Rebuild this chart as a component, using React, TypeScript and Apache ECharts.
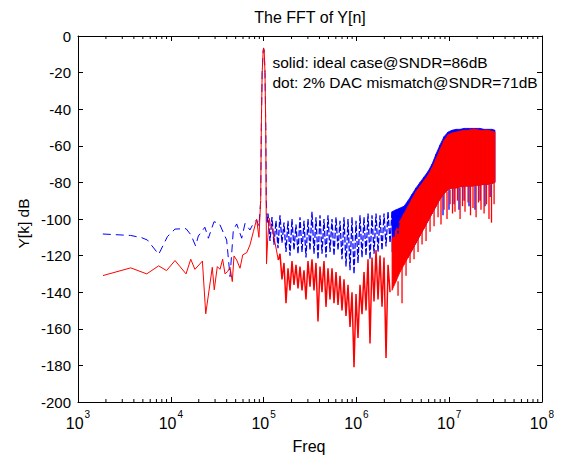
import React, { useEffect, useRef } from "react";
import * as echarts from "echarts";

const FONT = "'Liberation Sans', Arial, Helvetica, sans-serif";
const RED = "#ff0000";
const BLUE = "#0000ff";

// axis
const xMin = 1e3;
const xMax = 1e8;
const yMin = -200;
const yMax = 0;
const yInterval = 20;
const minorDecades = [1e3, 1e4, 1e5, 1e6, 1e7];
const minorMultipliers = [2, 3, 4, 5, 6, 7, 8, 9];

// texts
const titleText = "The FFT of Y[n]";
const xName = "Freq";
const yName = "Y[k] dB";
const note1 = "solid: ideal case@SNDR=86dB";
const note2 = "dot: 2% DAC mismatch@SNDR=71dB";

// ---- solid (ideal) : [Hz, dB]
const redLow: [number, number][] = [
  [1860, -130.9], [3700, -126.7], [5500, -130], [7400, -125.6], [9000, -128.2],
  [11100, -122.7], [14600, -130], [16400, -122], [18200, -127.5], [21900, -123],
  [23800, -151.8], [28000, -126.4], [29400, -138.7], [31700, -126], [33900, -127.5],
  [36200, -122], [38400, -130], [41000, -128.7], [43500, -126.4], [46000, -134.2],
  [48000, -120.2], [51300, -122.4], [55700, -126.9], [59600, -119.6], [65800, -118.4],
  [71300, -114.2], [77600, -106.9], [84100, -100.2], [89100, -110],
];
const redPeak: [number, number][] = [
  [93000, -90], [94500, -50], [96500, -20], [99000, -8], [100000, -6.5],
  [101500, -8], [103500, -20], [105500, -50], [106500, -90], [107500, -124.5],
  [111000, -110], [115200, -99.6], [118000, -103], [122000, -104], [127000, -108],
  [132700, -113], [137500, -117], [143900, -122.4],
];
// [kHz, dB]
const redNoise: [number, number][] = [
  [143.9, -122.4],
  [150.2, -119], [157.8, -133], [165.9, -124], [174.3, -146], [183.2, -127], [192.5, -139],
  [202.3, -123], [212.6, -136], [223.4, -125], [234.8, -138], [246.7, -126], [259.3, -139],
  [272.5, -128], [286.3, -144], [300.9, -123], [316.2, -137], [332.3, -122], [349.2, -139],
  [367.0, -124], [385.7, -156], [405.3, -126], [425.9, -140], [447.6, -123], [470.4, -148],
  [494.3, -127], [519.5, -144], [545.9, -127], [573.7, -146], [602.9, -129], [633.6, -147],
  [665.8, -131], [699.7, -150], [735.3, -133], [772.7, -153], [812.1, -136], [853.4, -159],
  [896.8, -140], [942.4, -181], [990.4, -141], [1040.7, -165], [1093.7, -136], [1149.4, -152],
  [1207.9, -129], [1269.4, -150], [1334.0, -122], [1401.9, -168], [1473.3, -121], [1548.3, -145],
  [1627.1, -117], [1709.9, -144], [1797.0, -120], [1888.4, -148], [1984.6, -121], [2085.6, -176],
  [2191.8, -125], [2303.4, -140],
];
// [kHz, top, bottom]
const redBand: [number, number, number][] = [
  [2420.6, -111, -139], [2673.4, -106, -134], [2952.5, -101, -129], [3260.7, -97, -125],
  [3601.2, -93, -121], [3977.2, -89, -117], [4392.4, -85, -113], [4851.0, -82, -109],
  [5357.5, -79, -105], [5916.9, -76, -101], [6534.6, -72, -97], [7216.9, -67, -93],
  [7970.4, -62, -89], [8802.5, -57, -86], [9721.6, -54, -84], [10736.5, -53, -83],
  [11857.4, -52.5, -83], [13095.4, -52, -82.5], [14462.7, -51.5, -82], [15972.6, -51.5, -82],
  [17640.3, -51, -82], [19482.0, -51, -81.5], [21516.0, -51.5, -81.5], [23762.4, -51.5, -81],
  [26243.3, -51.5, -81], [28983.3, -52, -80.5], [31150, -52.5, -80],
];
const redSpikes: [number, number, number][] = [
  [2809.5, -134, -142], [3102.8, -126, -146], [3426.7, -121, -131], [3784.5, -117, -124],
  [4179.6, -113, -122], [4616.0, -109, -118], [5098, -106, -114], [5630.2, -102, -112],
  [6218.1, -98, -107], [6867.3, -95, -104], [7584.3, -90, -99], [8159, -88, -103],
  [8802.5, -86, -95], [9469, -85, -100], [10216, -84, -92], [10853, -83, -97],
  [11547, -83, -96], [12290, -83, -90], [13095, -83, -100], [13911, -82, -93],
  [14800, -82, -96], [15973, -82, -91], [16963, -82, -98], [18053, -82, -94],
  [19482, -81.5, -99], [20690, -81.5, -91], [22010, -81.5, -95], [23762, -81, -97],
  [25230, -81, -92], [26840, -81, -100], [28560, -80.5, -102], [30459, -80, -92],
];

// ---- dotted (2% DAC mismatch) : [Hz, dB]
const blueLow: [number, number][] = [
  [1850, -108.2], [3700, -109], [4850, -110.2], [5600, -111.5], [7400, -119.3],
  [9200, -109.6], [11100, -105.5], [14600, -105.3], [16500, -108.7], [18500, -114.7],
  [19800, -109.3], [23300, -104.5], [25400, -110.5], [29200, -101.5], [33300, -102.4],
  [40000, -111.5], [43500, -131.5], [47200, -106], [51300, -102.7], [58100, -110.5],
  [63100, -102.4], [71300, -106], [77600, -102.4], [84100, -100.5], [89000, -104],
];
const bluePeak: [number, number][] = [
  [93000, -90], [94500, -50], [96500, -20], [99000, -8], [100000, -7],
  [101500, -8], [103500, -20], [105500, -50], [107000, -90], [109000, -102],
];
// [kHz, dB]
const blueNoise: [number, number][] = [
  [109.0, -102],
  [111.5, -97], [117.2, -112], [123.1, -99], [129.4, -114], [136.0, -101], [142.9, -116],
  [150.2, -98], [157.8, -113], [165.9, -102], [174.3, -118], [183.2, -101], [192.5, -120],
  [202.3, -100], [212.6, -117], [223.4, -103], [234.8, -119], [246.7, -99], [259.3, -118],
  [272.5, -101], [286.3, -121], [300.9, -100], [316.2, -117], [332.3, -96], [349.2, -119],
  [367.0, -99], [385.7, -122], [405.3, -98], [425.9, -119], [447.6, -100], [470.4, -121],
  [494.3, -98], [519.5, -118], [545.9, -100], [573.7, -120], [602.9, -99], [633.6, -117],
  [665.8, -101], [699.7, -122], [735.3, -99], [772.7, -126], [812.1, -100], [853.4, -128],
  [896.8, -99], [942.4, -130], [990.4, -101], [1040.7, -124], [1093.7, -98], [1149.4, -121],
  [1207.9, -99], [1269.4, -120], [1334.0, -97], [1401.9, -122], [1473.3, -98], [1548.3, -119],
  [1627.1, -97], [1709.9, -118], [1797.0, -98], [1888.4, -117], [1984.6, -97], [2085.6, -115],
  [2191.8, -96], [2303.4, -113], [2420.6, -96], [2543.9, -110], [2673.4, -95], [2809.5, -108],
  [2952.5, -94],
];
const blueBand: [number, number, number][] = [
  [2420.6, -96, -118], [2673.4, -95, -118], [2952.5, -94, -120], [3260.7, -93, -122],
  [3601.2, -90, -121], [3977.2, -86.5, -117], [4392.4, -83, -113], [4851.0, -80, -109],
  [5357.5, -77, -105], [5916.9, -74, -101], [6534.6, -70, -97], [7216.9, -64.5, -93],
  [7970.4, -59.5, -89], [8802.5, -55, -86], [9721.6, -52.5, -84], [10736.5, -51.5, -83],
  [11857.4, -51, -83], [13095.4, -51, -82.5], [14462.7, -50.5, -82], [15972.6, -50.5, -82],
  [17640.3, -50.5, -82], [19482.0, -50.5, -81.5], [21516.0, -50.5, -81.5], [23762.4, -51, -81],
  [26243.3, -51, -81], [28983.3, -51, -80.5], [31150, -51.5, -80],
];
const blueSpikes: [number, number, number][] = [
  [8575, -86, -98], [9950, -84, -95], [11280, -83, -92], [12750, -83, -95],
  [14463, -82, -90], [16346, -82, -93], [18970, -81.5, -95], [21516, -81.5, -90],
  [24310, -81, -93], [27580, -81, -88],
];

const kHz = (rows: number[][]) => rows.map((r) => [r[0] * 1000, ...r.slice(1)]);

function bandRenderer(rows: number[][], color: string) {
  return (params: any, api: any) => {
    const i = params.dataIndex;
    if (i >= rows.length - 1) return null;
    const a = rows[i];
    const b = rows[i + 1];
    const p1 = api.coord([a[0], a[1]]);
    const p2 = api.coord([b[0], b[1]]);
    const p3 = api.coord([b[0], b[2]]);
    const p4 = api.coord([a[0], a[2]]);
    return {
      type: "polygon",
      shape: { points: [p1, p2, p3, p4] },
      style: { fill: color, stroke: color, lineWidth: 0.8 },
    };
  };
}

function spikeRenderer(color: string) {
  return (params: any, api: any) => {
    const a = api.coord([api.value(0), api.value(1)]);
    const b = api.coord([api.value(0), api.value(2)]);
    return {
      type: "line",
      shape: { x1: a[0], y1: a[1], x2: b[0], y2: b[1] },
      style: { stroke: color, lineWidth: 1.3 },
    };
  };
}

export default function App() {
  const ref = useRef<HTMLDivElement>(null);
  useEffect(() => {
    if (!ref.current) return;
    const chart = echarts.init(ref.current, undefined, { renderer: "svg" });

    const redLine = [...redLow, ...redPeak];
    const blueLine = [...blueLow, ...bluePeak];
    const redNoiseHz = kHz(redNoise);
    const blueNoiseHz = kHz(blueNoise);
    const redBandHz = kHz(redBand);
    const blueBandHz = kHz(blueBand);
    const redSpikesHz = kHz(redSpikes);
    const blueSpikesHz = blueSpikes.map((r) => [r[0] * 1000, r[1], r[2]]);
    const minorTicks: number[][] = [];
    minorDecades.forEach((d) => minorMultipliers.forEach((m) => minorTicks.push([d * m, yMin])));

    const axisCommonX = {
      type: "log",
      logBase: 10,
      min: xMin,
      max: xMax,
      splitNumber: 5,
      axisLine: { show: true, onZero: false, lineStyle: { color: "#000", width: 1 } },
      axisTick: { show: true, inside: true, length: 5, lineStyle: { color: "#000", width: 1 } },
      splitLine: { show: false },
      minorTick: { show: false },
      minorSplitLine: { show: false },
    };
    const axisCommonY = {
      type: "value",
      min: yMin,
      max: yMax,
      interval: yInterval,
      axisLine: { show: true, onZero: false, lineStyle: { color: "#000", width: 1 } },
      axisTick: { show: true, inside: true, length: 5, lineStyle: { color: "#000", width: 1 } },
      splitLine: { show: false },
    };

    const lineSeries = (name: string, data: number[][], color: string, width: number, type: any) => ({
      type: "line",
      name,
      data,
      symbol: "none",
      showSymbol: false,
      clip: true,
      silent: true,
      lineStyle: { color, width, type },
      itemStyle: { color },
    });
    const customSeries = (name: string, data: number[][], renderItem: any) => ({
      type: "custom",
      name,
      data,
      encode: { x: 0, y: [1, 2] },
      renderItem,
      clip: true,
      silent: true,
    });

    const option: any = {
      animation: false,
      backgroundColor: "#ffffff",
      grid: { left: 78, right: 20, top: 36, bottom: 53, containLabel: false, outerBoundsMode: "none" },
      xAxis: [
        {
          ...axisCommonX,
          position: "bottom",
          axisLabel: {
            show: true,
            margin: 7,
            showMinLabel: true,
            showMaxLabel: true,
            formatter: (v: number) => `{b|10}{e|${Math.round(Math.log10(v))}}`,
            rich: {
              b: { fontSize: 16, fontFamily: FONT, color: "#000", padding: [6, 0, 0, 0] },
              e: { fontSize: 10, fontFamily: FONT, color: "#000", verticalAlign: "top", padding: [0, 0, 0, 1] },
            },
          },
        },
        { ...axisCommonX, position: "top", axisLabel: { show: false } },
      ],
      yAxis: [
        {
          ...axisCommonY,
          position: "left",
          axisLabel: { show: true, margin: 7, fontSize: 15, fontFamily: FONT, color: "#000" },
        },
        { ...axisCommonY, position: "right", axisLabel: { show: false } },
      ],
      graphic: [
        {
          type: "text", x: 310, y: 17, z: 50,
          style: { text: titleText, fontSize: 16, fontFamily: FONT, fill: "#000", align: "center", verticalAlign: "middle" },
        },
        {
          type: "text", x: 272.5, y: 62.5, z: 50,
          style: { text: note1, fontSize: 15.5, fontFamily: FONT, fill: "#000", align: "left", verticalAlign: "middle" },
        },
        {
          type: "text", x: 272.5, y: 82.5, z: 50,
          style: { text: note2, fontSize: 15.5, fontFamily: FONT, fill: "#000", align: "left", verticalAlign: "middle" },
        },
        {
          type: "text", x: 309, y: 446, z: 50,
          style: { text: xName, fontSize: 16, fontFamily: FONT, fill: "#000", align: "center", verticalAlign: "middle" },
        },
        {
          type: "text", x: 23, y: 223.5, rotation: Math.PI / 2, z: 50,
          style: { text: yName, fontSize: 15.5, fontFamily: FONT, fill: "#000", align: "center", verticalAlign: "middle" },
        },
      ],
      series: [
        lineSeries("dot", blueLine, BLUE, 1, [8, 5]),
        lineSeries("dotNoise", blueNoiseHz, BLUE, 1.3, [6, 2]),
        customSeries("dotBand", blueBandHz, bandRenderer(blueBandHz, BLUE)),
        customSeries("dotSpikes", blueSpikesHz, spikeRenderer(BLUE)),
        lineSeries("solid", redLine, RED, 1, "solid"),
        lineSeries("solidNoise", redNoiseHz, RED, 1.5, "solid"),
        customSeries("solidBand", redBandHz, bandRenderer(redBandHz, RED)),
        customSeries("solidSpikes", redSpikesHz, spikeRenderer(RED)),
        {
          type: "custom",
          name: "minorTicks",
          data: minorTicks,
          encode: { x: 0, y: 1 },
          z: 10,
          silent: true,
          renderItem: (params: any, api: any) => {
            const v = api.value(0);
            const b = api.coord([v, yMin]);
            const t = api.coord([v, yMax]);
            return {
              type: "group",
              children: [
                { type: "line", shape: { x1: b[0], y1: b[1], x2: b[0], y2: b[1] - 3 }, style: { stroke: "#000", lineWidth: 1 } },
                { type: "line", shape: { x1: t[0], y1: t[1], x2: t[0], y2: t[1] + 3 }, style: { stroke: "#000", lineWidth: 1 } },
              ],
            };
          },
        },
      ],
    };
    chart.setOption(option);
    return () => chart.dispose();
  }, []);

  return (
    <div
      ref={ref}
      style={{ position: "fixed", left: 0, top: 0, width: 562, height: 455, background: "#fff" }}
    />
  );
}
